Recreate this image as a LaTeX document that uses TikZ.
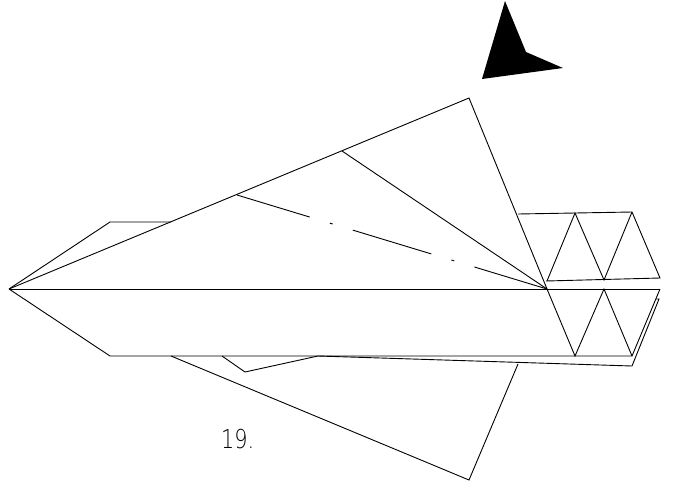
\documentclass[tikz,border=0pt]{standalone}
\usepackage{fontspec}
\setsansfont{DejaVu Sans ExtraLight}[FakeStretch=0.8]
\begin{document}
\begin{tikzpicture}[x=1pt,y=-1pt,every node/.style={inner sep=0pt}]
\tikzstyle{fold}=[draw,line width=0.9pt,line join=miter]
\tikzstyle{chain}=[fold,dash pattern=on 82pt off 21pt on 3pt off 21pt,dash phase=6pt]
\useasboundingbox (0,0) rectangle (674,488);
\coordinate (tip) at (9,289);
\coordinate (pivot) at (547,289);
\coordinate (apex) at (469,98);
\coordinate (apexb) at (469,480);
\coordinate (c1) at (237,195);
\coordinate (c2) at (342,151);
\coordinate (end) at (660,289);
% body
\draw[fold] (tip)--(110,222)--(171,222);
\draw[fold] (tip)--(110,356)--(632,356)--(end);
\draw[fold] (tip)--(end);
% wings
\draw[fold] (tip)--(apex)--(pivot);
\draw[fold] (c2)--(pivot);
\draw[chain] (c1)--(pivot);
\draw[fold] (171,356)--(apexb)--(518,364);
% under flap
\draw[fold] (222,356)--(245,372)--(318,356)--(632,366)--(659,299)--(656,299);
% upper teeth
\draw[fold] (518,214)--(632,212)--(660,278)--(546,281);
\draw[fold] (547,281)--(575,213)--(604,280)--(632,212);
% lower teeth
\draw[fold] (pivot)--(575,356)--(604,289)--(632,356);
% mark
\fill[black] (505,1)--(526,52)--(563,68)--(482,79)--cycle;
\node[font=\sffamily\fontsize{26}{26}\selectfont,anchor=base west](n19) at (221,448){19.};
\end{tikzpicture}
\end{document}
